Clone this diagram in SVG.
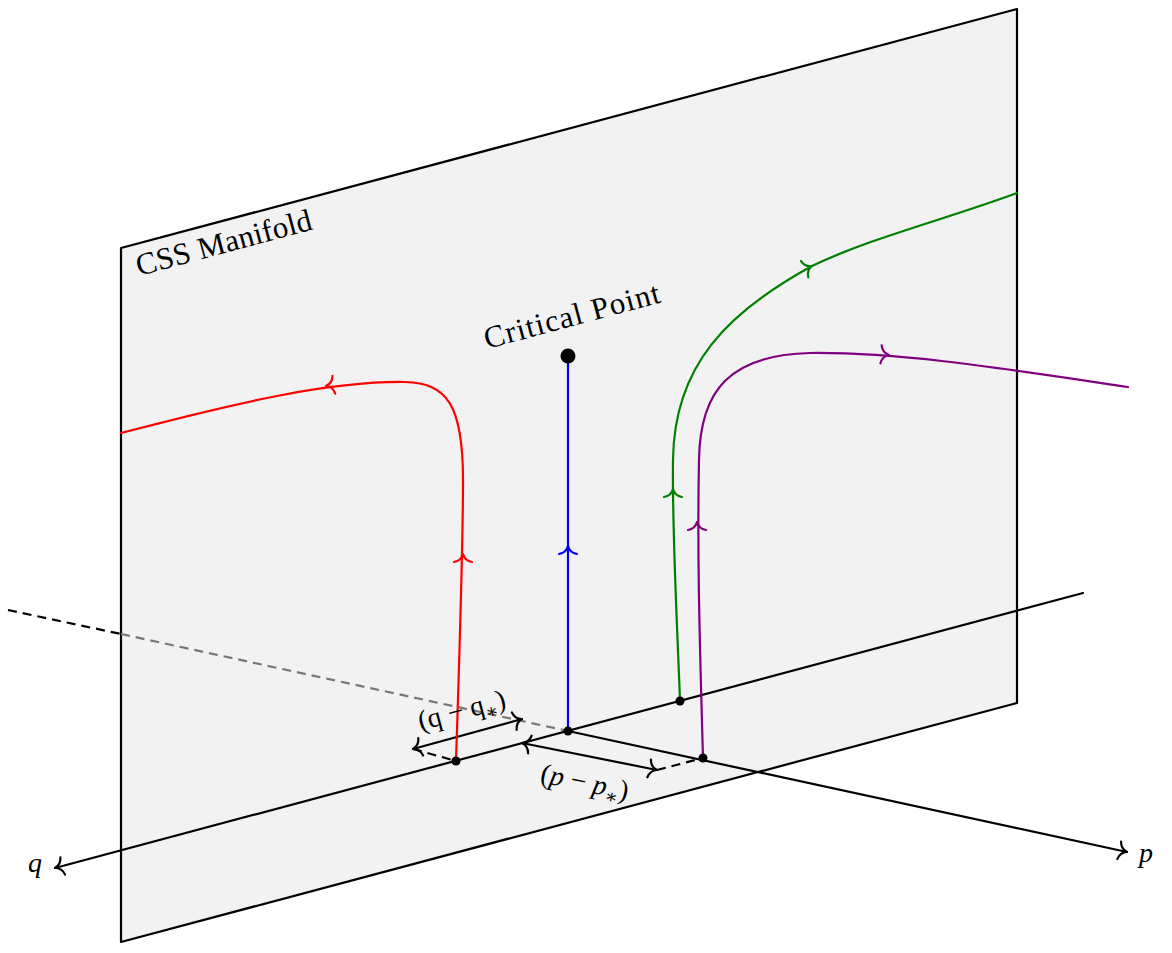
<svg xmlns="http://www.w3.org/2000/svg" xmlns:xlink="http://www.w3.org/1999/xlink" width="1172" height="953" viewBox="0 0 1172 953">
<style>
text{font-family:"Liberation Serif","DejaVu Serif",serif;fill:#000}
.ln{fill:none;stroke-width:2.2;stroke-linecap:round;stroke-linejoin:round}
.ah{fill:none;stroke-width:2.2;stroke-linecap:round;stroke-linejoin:round}
.dash{fill:none;stroke-width:2.2;stroke-dasharray:9 6}
</style>
<defs>
<path id="ahp" d="M-8,-9 C-7,-3.5 -3.5,-0.9 0,0 C-3.5,0.9 -7,3.5 -8,9"/>
<marker id="mk" markerUnits="userSpaceOnUse" viewBox="-10 -10 20 20" markerWidth="20" markerHeight="20" refX="0" refY="0" orient="auto-start-reverse" overflow="visible">
<path d="M-8,-9 C-7,-3.5 -3.5,-0.9 0,0 C-3.5,0.9 -7,3.5 -8,9" fill="none" stroke="#000" stroke-width="2.2" stroke-linecap="round"/>
</marker>
</defs>
<rect width="1172" height="953" fill="#fff"/>
<g id="plane">
<polygon points="121,248 1017,9 1017,703 121,942" fill="#f2f2f2" stroke="#000" stroke-width="2.2" stroke-linejoin="round"/>
<text transform="translate(139,276) rotate(-15)" font-size="31" textLength="181" lengthAdjust="spacing">CSS Manifold</text>
</g>
<g id="connectors">
<line class="dash" x1="8" y1="610" x2="121" y2="634" stroke="#000"/>
<line class="dash" x1="121" y1="634" x2="568" y2="731" stroke="#777"/>
<line class="ln" x1="568" y1="731" x2="1127" y2="852" stroke="#000" marker-end="url(#mk)"/>
<line class="ln" x1="1083" y1="593" x2="55" y2="868" stroke="#000" marker-end="url(#mk)"/>
<line class="ln" x1="413" y1="749" x2="522" y2="719" stroke="#000" marker-start="url(#mk)" marker-end="url(#mk)"/>
<line class="dash" x1="413" y1="749" x2="456" y2="761" stroke="#000"/>
<line class="ln" x1="522" y1="743" x2="657" y2="770" stroke="#000" marker-start="url(#mk)" marker-end="url(#mk)"/>
<line class="dash" x1="657" y1="770" x2="703" y2="758" stroke="#000"/>
<path class="ln" stroke="#ff0000" d="M456,761 C460,640 463,540 463,480 C463,405 447,383 405,382 C330,381 240,402 121,433"/>
<path class="ln" stroke="#0000ff" d="M568,356 L568,731"/>
<path class="ln" stroke="#008000" d="M680,701 C677,620 672,530 673,460 C674,365 728,312 812,266 C870,238 950,218 1017,193"/>
<path class="ln" stroke="#800080" d="M703,758 C700,650 697,560 699,460 C700,390 730,355 810,353 C900,352 1000,368 1128,387"/>
<use href="#ahp" class="ah" stroke="#ff0000" transform="translate(463,554) rotate(-90)"/>
<use href="#ahp" class="ah" stroke="#ff0000" transform="translate(326,386) rotate(171)"/>
<use href="#ahp" class="ah" stroke="#0000ff" transform="translate(568,546) rotate(-90)"/>
<use href="#ahp" class="ah" stroke="#008000" transform="translate(673,489) rotate(-90)"/>
<use href="#ahp" class="ah" stroke="#008000" transform="translate(812,266) rotate(-24)"/>
<use href="#ahp" class="ah" stroke="#800080" transform="translate(697,522) rotate(-90)"/>
<use href="#ahp" class="ah" stroke="#800080" transform="translate(889,355) rotate(4)"/>
<text transform="translate(464,719) rotate(-15)" font-size="28" text-anchor="middle">(q − q<tspan font-size="19" dy="6">∗</tspan><tspan dy="-6">)</tspan></text>
<text transform="translate(583,791) rotate(12)" font-size="28" text-anchor="middle">(<tspan font-style="italic">p</tspan> − <tspan font-style="italic">p</tspan><tspan font-size="19" dy="6">∗</tspan><tspan dy="-6">)</tspan></text>
<text x="35" y="872" font-size="28" font-style="italic" text-anchor="middle">q</text>
<text x="1146" y="862" font-size="28" font-style="italic" text-anchor="middle">p</text>
</g>
<g id="critical-point">
<circle cx="568" cy="356" r="7.5" fill="#000"/>
<text transform="translate(487,349) rotate(-15)" font-size="31" textLength="181" lengthAdjust="spacing">Critical Point</text>
</g>
<g id="origin"><circle cx="568" cy="731" r="4.5" fill="#000"/></g>
<g id="red-point"><circle cx="456" cy="761" r="4.5" fill="#000"/></g>
<g id="green-point"><circle cx="680" cy="701" r="4.5" fill="#000"/></g>
<g id="purple-point"><circle cx="703" cy="758" r="4.5" fill="#000"/></g>
</svg>
